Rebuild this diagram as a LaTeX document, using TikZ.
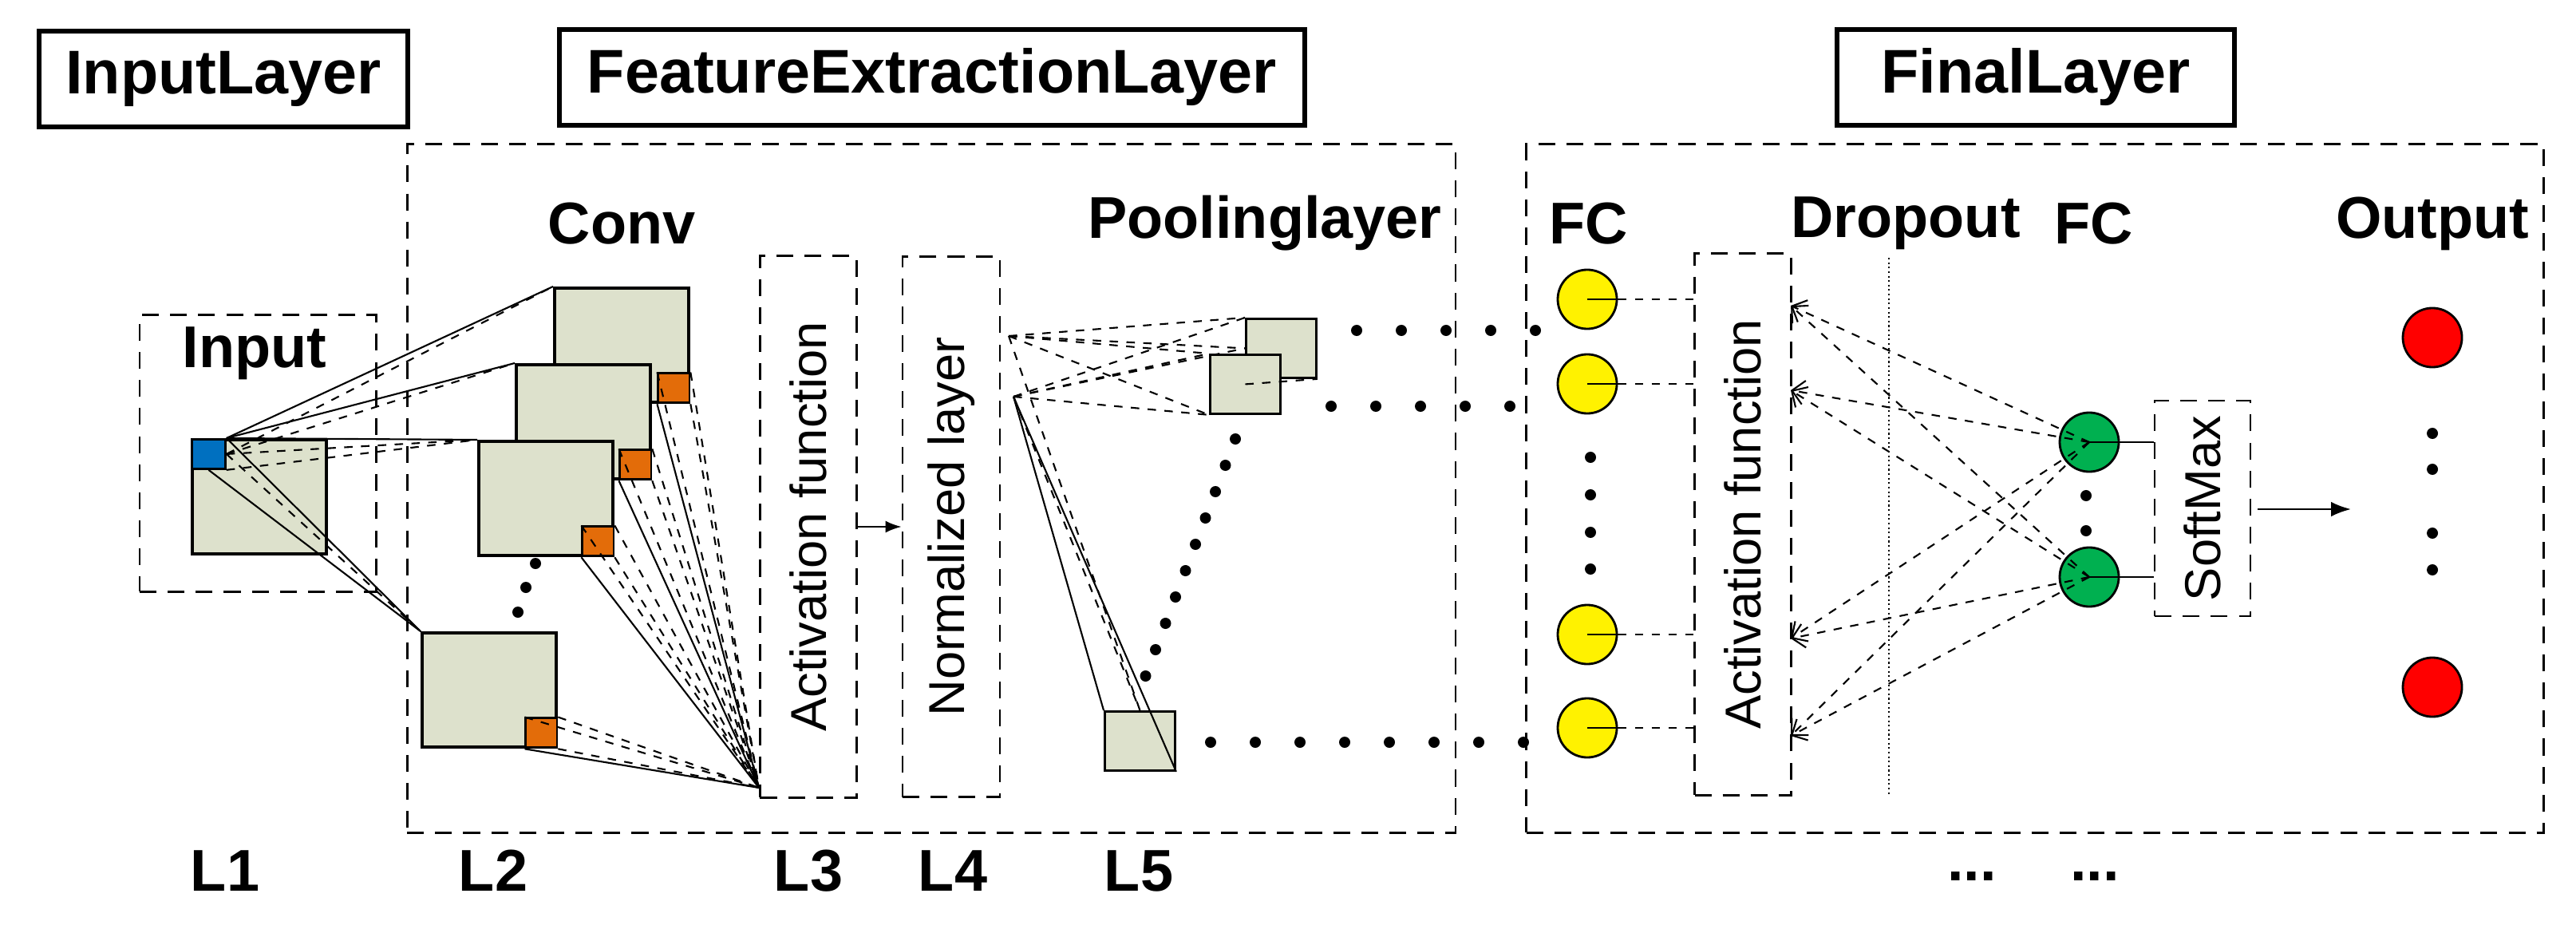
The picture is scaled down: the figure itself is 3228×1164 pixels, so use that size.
\documentclass[tikz,border=0pt]{standalone}
\usepackage{fontspec}
\setmainfont{Liberation Sans}
\usetikzlibrary{arrows.meta}
\definecolor{mapfill}{HTML}{DDE1CC}
\definecolor{kernel}{HTML}{E36C09}
\definecolor{patch}{HTML}{0070C0}
\definecolor{fcgreen}{HTML}{00B050}
\tikzset{
    line/.style={
        thick
    },
    arrow/.style={
        line,
        ->,
        > = {
            Triangle[length=2.0mm, width=2.0mm]
        }
    },
    title/.style={draw, line width=1.6pt, font=\bfseries\fontsize{22}{24}\selectfont, minimum height=1.2cm, inner xsep=6pt},
    group/.style={draw, dashed, thick, dash pattern=on 6pt off 4pt},
    label/.style={font=\bfseries\fontsize{21}{24}\selectfont},
    vlabel/.style={font=\fontsize{18}{20}\selectfont, rotate=90},
    map/.style={draw, line width=1.2pt, fill=mapfill, anchor=north west, minimum width=1.68cm, minimum height=1.43cm, inner sep=0pt},
    pool/.style={draw, thick, fill=mapfill, anchor=north west, minimum width=0.88cm, minimum height=0.74cm, inner sep=0pt},
    ker/.style={draw, thick, fill=kernel, anchor=south east, minimum width=0.39cm, minimum height=0.37cm, inner sep=0pt},
    unit/.style={draw, thick, circle, minimum size=0.74cm, inner sep=0pt},
    link/.style={semithick, dashed},
    dot/.style={fill=black, circle, inner sep=0pt, minimum size=0.14cm}
}

\begin{document}
\begin{tikzpicture}[x=0.01cm, y=-0.01cm]
    \useasboundingbox (0, 0) rectangle (3228, 1164);
    % Titles:
    \node [title, minimum width=4.62cm] (tin) at (280, 99) {InputLayer};
    \node [title, minimum width=9.33cm] (tfe) at (1168, 97) {FeatureExtractionLayer};
    \node [title, minimum width=4.98cm] (tfin) at (2551, 97) {FinalLayer};
    % Groups:
    \node [group, minimum width=2.96cm, minimum height=3.46cm] (gin) at (323, 568) {};
    \node [group, minimum width=13.13cm, minimum height=8.62cm] (gfe) at (1167, 612) {};
    \node [group, minimum width=12.74cm, minimum height=8.62cm] (gfin) at (2550, 612) {};
    % Input:
    \node [label] (lin) at (319, 443) {Input};
    \node [map] (img) at (239, 549) {};
    \node [draw, thick, fill=patch, anchor=north west, minimum width=0.42cm, minimum height=0.37cm, inner sep=0pt] (px) at (239, 549) {};
    % Conv:
    \node [label] (lconv) at (779, 280) {Conv};
    \node [map] (c1) at (693, 359) {};
    \node [ker] (k1) at (c1.south east) {};
    \node [map] (c2) at (645, 455) {};
    \node [ker] (k2) at (c2.south east) {};
    \node [map] (c3) at (598, 551) {};
    \node [ker] (k3) at (c3.south east) {};
    \node [map] (c4) at (527, 791) {};
    \node [ker] (k4) at (c4.south east) {};
    \foreach \p in {(671, 706), (659, 736), (649, 767)}
        \node [dot] at \p {};
    \coordinate (sink) at (951, 987);
    \foreach \c in {c1, c2, c3, c4} {
        \draw [semithick] (px.north east) -- (\c.north west);
        \draw [link] (px.east) -- (\c.north west);
    }
    \draw [link] (px.south east) -- (c3.north west);
    \draw [semithick] (px.south) -- (c4.north west);
    \foreach \k in {k1, k2, k3, k4} {
        \draw [link] (\k.north west) -- (sink);
        \draw [link] (\k.north east) -- (sink);
        \draw [semithick] (\k.south west) -- (sink);
        \draw [link] (\k.south east) -- (sink);
    }
    % Activation and normalization:
    \node [group, minimum width=1.21cm, minimum height=6.78cm] (act) at (1013, 660) {};
    \node [vlabel] at (act) {Activation function};
    \node [group, minimum width=1.22cm, minimum height=6.77cm] (norm) at (1192, 660) {};
    \node [vlabel] at (norm) {Normalized layer};
    \draw [semithick, -{Latex[length=2mm]}] (act.east) -- (norm.west);
    % Pooling:
    \node [label] (lpool) at (1585, 280) {Poolinglayer};
    \coordinate (nt) at (1264, 421);
    \coordinate (nb) at (1270, 497);
    \node [pool] (p1) at (1560, 398) {};
    \foreach \s in {nt, nb} {
        \draw [link] (\s) -- (p1.north west);
        \draw [link] (\s) -- (p1.west);
    }
    \node [pool] (p2) at (1515, 443) {};
    \foreach \s in {nt, nb} {
        \draw [link] (\s) -- (p2.north west);
        \draw [link] (\s) -- (p2.south west);
    }
    \draw [link] (p2.center) -- (p1.south east);
    \node [pool] (p3) at (1383, 890) {};
    \draw [semithick] (nb) -- (p3.north west);
    \draw [link] (nb) -- (p3.north);
    \draw [link] (nt) -- (p3.north);
    \draw [semithick] (nb) -- (p3.south east);
    \foreach \i in {0,...,9}
        \node [dot] at ({1548 - \i*12.5}, {550 + \i*33}) {};
    \foreach \i in {0,...,4}
        \node [dot] at ({1700 + \i*56}, 414) {};
    \foreach \i in {0,...,4}
        \node [dot] at ({1668 + \i*56}, 509) {};
    \foreach \i in {0,...,7}
        \node [dot] at ({1517 + \i*56}, 930) {};
    % Fully connected:
    \node [label] (lfc) at (1991, 280) {FC};
    \node [label] (ldrop) at (2388, 280) {Dropout};
    \node [label] (lfc2) at (2624, 280) {FC};
    \node [label] (lout) at (3048, 280) {Output};
    \node [group, minimum width=1.21cm, minimum height=6.78cm] (act2) at (2184, 657) {};
    \node [vlabel] at (act2) {Activation function};
    \draw [densely dotted, semithick] (2367, 323) -- (2367, 996);
    \foreach \n/\y in {y1/375, y2/481, y3/795, y4/912} {
        \node [unit, fill=yellow] (\n) at (1989, \y) {};
        \draw [semithick] (\n.center) -- (\n.east);
        \draw [link] (\n.east) -- (act2.west |- \n);
    }
    \foreach \y in {573, 620, 667, 713}
        \node [dot] at (1993, \y) {};
    \node [unit, fill=fcgreen] (g1) at (2618, 554) {};
    \node [unit, fill=fcgreen] (g2) at (2618, 723) {};
    \foreach \y in {621, 665}
        \node [dot] at (2614, \y) {};
    \foreach \y [count=\i] in {383, 489, 800, 922} {
        \coordinate (a\i) at (2244, \y);
        \draw [link, -{Straight Barb[length=1.5mm]}] (g1.center) -- (a\i);
        \draw [link, -{Straight Barb[length=1.5mm]}] (g2.center) -- (a\i);
    }
    \node [group, minimum width=1.2cm, minimum height=2.7cm] (soft) at (2760, 637) {};
    \node [vlabel] at (soft) {SoftMax};
    \draw [thick] (g1.center) -- (g1.center -| soft.west);
    \draw [thick] (g2.center) -- (g2.center -| soft.west);
    \coordinate (outin) at (2946, 638);
    \draw [thick, -{Latex[length=2.5mm]}] (2829, 638) -- (outin);
    \node [unit, fill=red] (o1) at (3048, 423) {};
    \node [unit, fill=red] (o2) at (3048, 861) {};
    \foreach \y in {543, 588, 668, 714}
        \node [dot] at (3048, \y) {};
    % Layer names:
    \foreach \t/\x in {L1/282, L2/618, L3/1013, L4/1194, L5/1427}
        \node [label] at (\x, 1091) {\t};
    \node [label] at (2471, 1098) {...};
    \node [label] at (2625, 1098) {...};
\end{tikzpicture}
\end{document}
